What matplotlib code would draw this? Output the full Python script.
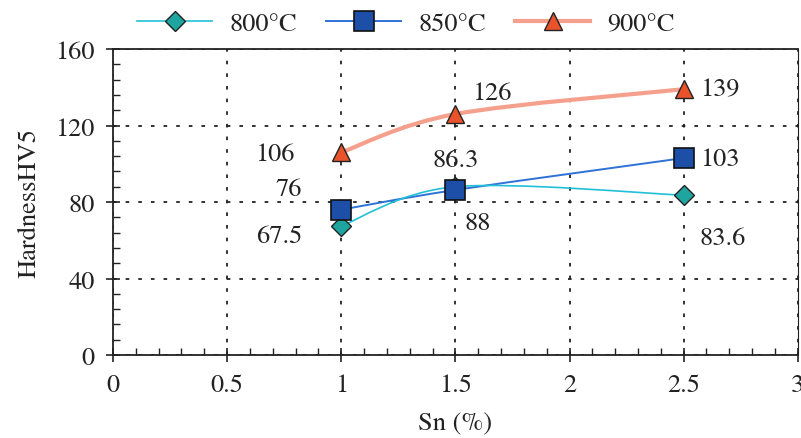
import numpy as np
import matplotlib.pyplot as plt
from matplotlib.path import Path
from matplotlib.patches import PathPatch
from matplotlib.lines import Line2D
from matplotlib.ticker import MultipleLocator

sn = [1.0, 1.5, 2.5]
hv_800 = [67.5, 88, 83.6]
hv_850 = [76, 86.3, 103]
hv_900 = [106, 126, 139]

# value labels as printed on the chart: (text, x, y)
labels = [("106", 0.71, 105), ("76", 0.77, 87), ("67.5", 0.73, 62),
          ("86.3", 1.50, 102), ("126", 1.66, 137), ("88", 1.60, 69),
          ("139", 2.66, 139), ("103", 2.66, 102.5), ("83.6", 2.67, 61)]

plt.rcParams['font.family'] = ['TeX Gyre Termes', 'Liberation Serif', 'DejaVu Serif']
plt.rcParams['font.size'] = 19


def smooth(ax, x, y, color, lw):
    # smoothed line through the points, drawn as a bezier path
    x = np.asarray(x, float); y = np.asarray(y, float)
    n = len(x)
    verts = [(x[0], y[0])]
    codes = [Path.MOVETO]
    for i in range(n - 1):
        x0, y0 = (x[i-1], y[i-1]) if i > 0 else (x[i], y[i])
        x3, y3 = (x[i+2], y[i+2]) if i + 2 < n else (x[i+1], y[i+1])
        c1 = (x[i] + (x[i+1]-x0)/6, y[i] + (y[i+1]-y0)/6)
        c2 = (x[i+1] - (x3-x[i])/6, y[i+1] - (y3-y[i])/6)
        verts += [c1, c2, (x[i+1], y[i+1])]
        codes += [Path.CURVE4]*3
    ax.add_patch(PathPatch(Path(verts, codes), fc='none', ec=color, lw=lw, zorder=3))


fig = plt.figure(figsize=(8.01, 4.39), dpi=100)
ax = fig.add_axes([0.141, 0.189, 0.855, 0.697])

smooth(ax, sn, hv_900, '#f5a08c', 3.0)
smooth(ax, sn, hv_850, '#2f72d6', 1.4)
smooth(ax, sn, hv_800, '#22bfd8', 1.2)

l1, = ax.plot(sn, hv_800, ls='none', marker='D', ms=10, mfc='#1fa5a0', mec='#222', mew=1.0, zorder=4)
l2, = ax.plot(sn, hv_850, ls='none', marker='s', ms=15, mfc='#1d4fa8', mec='#111', mew=1.2, zorder=5)
l3, = ax.plot(sn, hv_900, ls='none', marker='^', ms=13, mfc='#e8532c', mec='#222', mew=1.0, zorder=4)

for t, x, y in labels:
    ax.text(x, y, t, ha='center', va='center', color='#222', zorder=6)

ax.set_xlim(0, 3)
ax.set_ylim(0, 160)
ax.xaxis.set_major_locator(MultipleLocator(0.5))
ax.xaxis.set_minor_locator(MultipleLocator(0.1))
ax.yaxis.set_major_locator(MultipleLocator(40))
ax.yaxis.set_minor_locator(MultipleLocator(8))
ax.set_xticks([0, 0.5, 1, 1.5, 2, 2.5, 3])
ax.set_xticklabels(['0', '0.5', '1', '1.5', '2', '2.5', '3'])
ax.tick_params(which='major', direction='inout', length=10, width=1.2, color='#222', labelcolor='#222')
ax.tick_params(axis='x', which='major', pad=8)
ax.tick_params(axis='y', which='major', pad=8)
ax.tick_params(which='minor', direction='in', length=5, width=1.0, color='#222')
ax.grid(True, which='major', color='#222', ls=(0, (2, 5)), lw=1.3)
for s in ax.spines.values():
    s.set_color('#222')
    s.set_linewidth(1.3)
ax.spines['right'].set_linewidth(0.8)

ax.set_xlabel('Sn (%)', color='#222', labelpad=10)
ax.set_ylabel('HardnessHV5', color='#222', labelpad=10)

# legend with lines through markers
h1 = (Line2D([], [], color='#22bfd8', lw=1.2), l1)
h2 = (Line2D([], [], color='#2f72d6', lw=1.4), l2)
h3 = (Line2D([], [], color='#f5a08c', lw=3.0), l3)
fig.legend([h1, h2, h3], ['800°C', '850°C', '900°C'], loc='center',
           bbox_to_anchor=(0.507, 0.943), ncol=3, frameon=False, handlelength=2.85,
           columnspacing=1.1, handletextpad=0.65, labelcolor='#222')

fig.savefig('out.png', dpi=100)
